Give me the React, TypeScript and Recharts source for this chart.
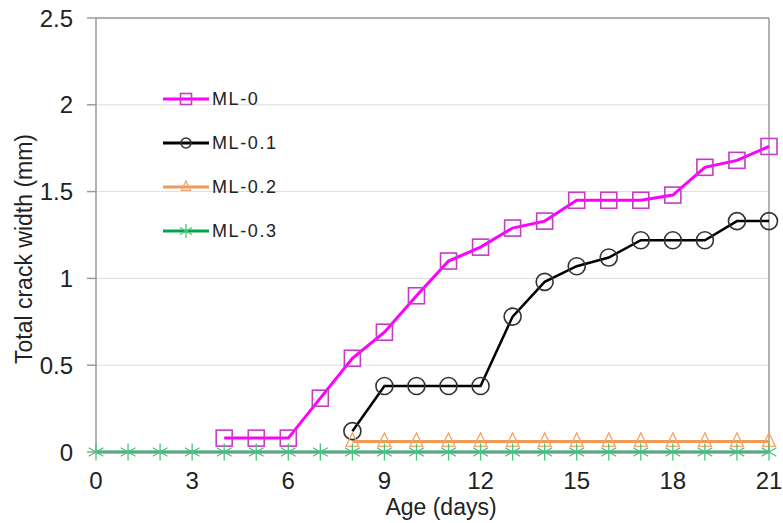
import React from "react";
import {
  LineChart,
  Line,
  XAxis,
  YAxis,
  CartesianGrid,
  Legend,
  ReferenceLine,
} from "recharts";

const days = [0, 1, 2, 3, 4, 5, 6, 7, 8, 9, 10, 11, 12, 13, 14, 15, 16, 17, 18, 19, 20, 21];
const ml0 = [null, null, null, null, 0.08, 0.08, 0.08, 0.31, 0.54, 0.69, 0.9, 1.1, 1.18, 1.29, 1.33, 1.45, 1.45, 1.45, 1.48, 1.64, 1.68, 1.76];
const ml01 = [null, null, null, null, null, null, null, null, 0.12, 0.38, 0.38, 0.38, 0.38, 0.78, 0.98, 1.07, 1.12, 1.22, 1.22, 1.22, 1.33, 1.33];
const ml02 = [null, null, null, null, null, null, null, null, 0.06, 0.06, 0.06, 0.06, 0.06, 0.06, 0.06, 0.06, 0.06, 0.06, 0.06, 0.06, 0.06, 0.06];
const ml03 = [0, 0, 0, 0, 0, 0, 0, 0, 0, 0, 0, 0, 0, 0, 0, 0, 0, 0, 0, 0, 0, 0];

const xTicks = [0, 3, 6, 9, 12, 15, 18, 21];
const yTicks = [0, 0.5, 1, 1.5, 2, 2.5];
const seriesNames = ["ML-0", "ML-0.1", "ML-0.2", "ML-0.3"];

const data = days.map((d, i) => ({
  day: d,
  ml0: ml0[i],
  ml01: ml01[i],
  ml02: ml02[i],
  ml03: ml03[i],
}));

const FONT = "'Liberation Sans', Arial, sans-serif";
const TEXT = "#222222";
const AXIS = "#9a9a9a";

type MarkerKind = "square" | "circle" | "triangle" | "star";

const markerColor: Record<MarkerKind, string> = {
  square: "#C63CC6",
  circle: "#333333",
  triangle: "#F2A46A",
  star: "#45C47A",
};

function Marker({ kind, cx, cy, s }: { kind: MarkerKind; cx: number; cy: number; s: number }) {
  const c = markerColor[kind];
  if (kind === "square") {
    return <rect x={cx - s} y={cy - s} width={2 * s} height={2 * s} fill="none" stroke={c} strokeWidth={1.6} />;
  }
  if (kind === "circle") {
    return <circle cx={cx} cy={cy} r={s} fill="none" stroke={c} strokeWidth={1.6} />;
  }
  if (kind === "triangle") {
    return (
      <polygon
        points={`${cx},${cy - s * 1.1} ${cx - s * 0.8},${cy + s * 0.6} ${cx + s * 0.8},${cy + s * 0.6}`}
        fill="none"
        stroke={c}
        strokeWidth={1.3}
      />
    );
  }
  const a = s * 0.87;
  const b = s * 0.5;
  return (
    <g stroke={c} strokeWidth={1.3}>
      <line x1={cx} y1={cy - s} x2={cx} y2={cy + s} />
      <line x1={cx - a} y1={cy - b} x2={cx + a} y2={cy + b} />
      <line x1={cx - a} y1={cy + b} x2={cx + a} y2={cy - b} />
    </g>
  );
}

const makeDot = (kind: MarkerKind, s: number) => (props: any) => {
  const { cx, cy, value, key, index } = props;
  if (value === null || value === undefined || cx == null || cy == null) {
    return <g key={key ?? `e-${kind}-${index}`} />;
  }
  return (
    <g key={key ?? `d-${kind}-${index}`}>
      <Marker kind={kind} cx={cx} cy={cy} s={s} />
    </g>
  );
};

const legendKinds: MarkerKind[] = ["square", "circle", "triangle", "star"];
const legendLineColors = ["#FF00FF", "#000000", "#EE9A58", "#00A550"];
const legendMarkerSize = [5.5, 5, 5.5, 7];

const CustomLegend = (props: any) => {
  const payload = props.payload || [];
  return (
    <svg width={140} height={180} style={{ overflow: "visible", display: "block" }}>
      {payload.map((entry: any, i: number) => {
        const y = 12 + i * 44;
        return (
          <g key={entry.value}>
            <line x1={0} y1={y} x2={46} y2={y} stroke={legendLineColors[i]} strokeWidth={3} />
            <Marker kind={legendKinds[i]} cx={23} cy={y} s={legendMarkerSize[i]} />
            <text x={49} y={y} dy="0.36em" fontFamily={FONT} fontSize={18} letterSpacing={1.6} fill={TEXT}>
              {entry.value}
            </text>
          </g>
        );
      })}
    </svg>
  );
};

const YLabel = () => {
  const x = 24;
  const y = 249;
  return (
    <text
      x={x}
      y={y}
      transform={`rotate(-90, ${x}, ${y})`}
      textAnchor="middle"
      dominantBaseline="central"
      fontFamily={FONT}
      fontSize={23}
      fill={TEXT}
    >
      Total crack width (mm)
    </text>
  );
};

const XLabel = () => {
  return (
    <text x={441} y={507} textAnchor="middle" dominantBaseline="central" fontFamily={FONT} fontSize={23} fill={TEXT}>
      Age  (days)
    </text>
  );
};

export default function App() {
  return (
    <div style={{ position: "absolute", left: 0, top: 0, width: 783, height: 523, background: "#fff" }}>
      <LineChart
        width={783}
        height={523}
        data={data}
        margin={{ top: 18, right: 14, left: 0, bottom: 0 }}
      >
        <CartesianGrid horizontal={true} vertical={false} stroke="#dcdcdc" strokeWidth={1} />
        <XAxis
          dataKey="day"
          type="number"
          domain={[0, 21]}
          ticks={xTicks}
          interval={0}
          height={71}
          tickLine={false}
          tickSize={6}
          tickMargin={14}
          axisLine={{ stroke: AXIS, strokeWidth: 1.5 }}
          tick={{ fontFamily: FONT, fontSize: 24, fill: TEXT }}
          label={<XLabel />}
        />
        <YAxis
          type="number"
          domain={[0, 2.5]}
          ticks={yTicks}
          interval={0}
          width={96}
          tickSize={9}
          tickMargin={14}
          tickLine={{ stroke: AXIS, strokeWidth: 1.5 }}
          axisLine={{ stroke: AXIS, strokeWidth: 1.5 }}
          tick={{ fontFamily: FONT, fontSize: 24, fill: TEXT }}
          label={<YLabel />}
        />
        <ReferenceLine y={2.5} stroke={AXIS} strokeWidth={1.5} />
        <ReferenceLine x={21} stroke={AXIS} strokeWidth={1.5} />
        <Legend
          layout="vertical"
          verticalAlign="middle"
          align="center"
          wrapperStyle={{ position: "absolute", left: 163, top: 87, width: 140, height: 180 }}
          content={<CustomLegend />}
        />
        <Line
          name={seriesNames[0]}
          dataKey="ml0"
          stroke="#FF00FF"
          strokeWidth={3}
          dot={makeDot("square", 8)}
          isAnimationActive={false}
        />
        <Line
          name={seriesNames[1]}
          dataKey="ml01"
          stroke="#000000"
          strokeWidth={2.5}
          dot={makeDot("circle", 8.5)}
          isAnimationActive={false}
        />
        <Line
          name={seriesNames[2]}
          dataKey="ml02"
          stroke="#EE9A58"
          strokeWidth={3}
          dot={makeDot("triangle", 8)}
          isAnimationActive={false}
        />
        <Line
          name={seriesNames[3]}
          dataKey="ml03"
          stroke="#00A550"
          strokeWidth={3}
          dot={makeDot("star", 8.5)}
          isAnimationActive={false}
        />
      </LineChart>
    </div>
  );
}
